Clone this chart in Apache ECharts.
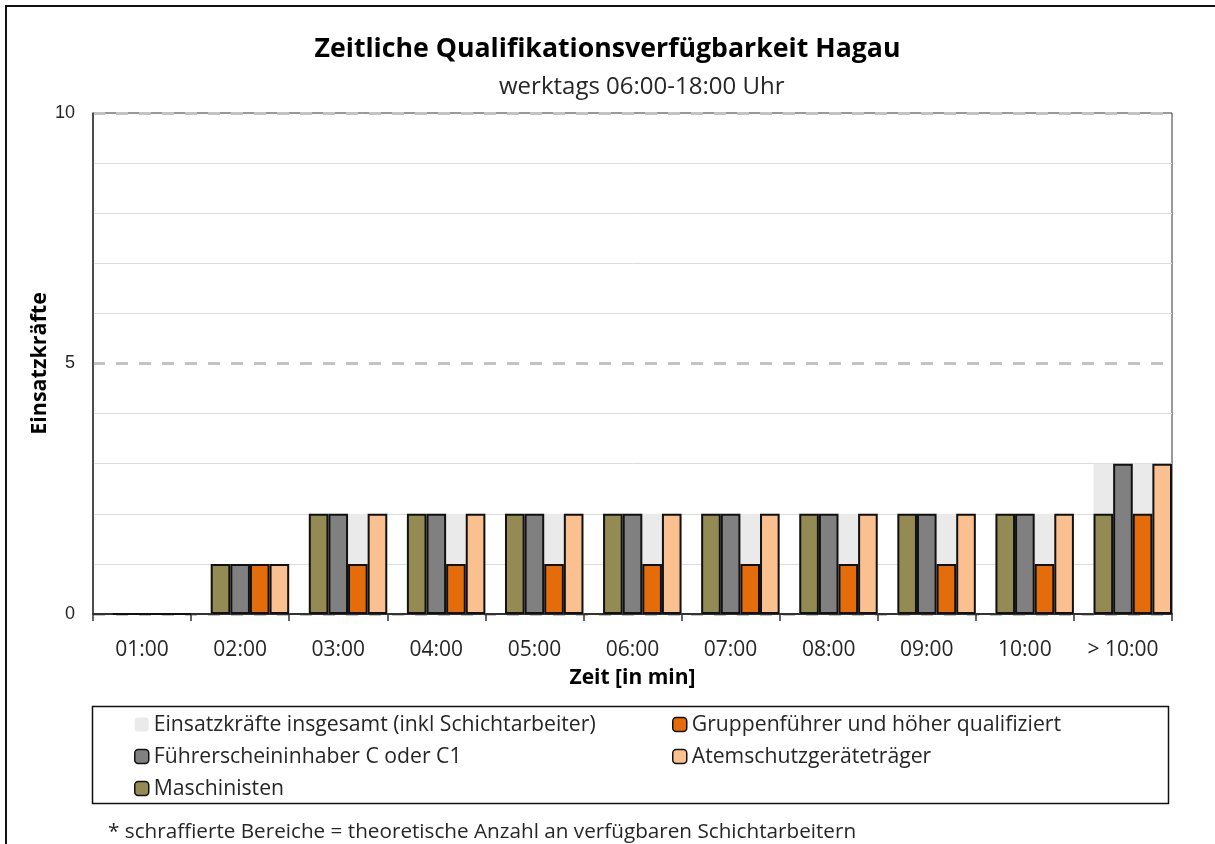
<!DOCTYPE html>
<html>
<head>
<meta charset="utf-8">
<title>Zeitliche Qualifikationsverfügbarkeit Hagau</title>
<script src="https://cdn.jsdelivr.net/npm/echarts@6/dist/echarts.min.js"></script>
<style>
  html, body { margin: 0; padding: 0; background: #fff; }
  #chart { width: 1215px; height: 844px; }
</style>
</head>
<body>
<div id="chart"></div>
<script>
// Zeitkategorien (Ausrückezeit)
const categories = ['01:00', '02:00', '03:00', '04:00', '05:00', '06:00', '07:00', '08:00', '09:00', '10:00', '> 10:00'];

// Verfügbare Einsatzkräfte je Qualifikation
const insgesamt      = [0, 1, 2, 2, 2, 2, 2, 2, 2, 2, 3];
const maschinisten   = [0, 1, 2, 2, 2, 2, 2, 2, 2, 2, 2];
const fuehrerschein  = [0, 1, 2, 2, 2, 2, 2, 2, 2, 2, 3];
const gruppenfuehrer = [0, 1, 1, 1, 1, 1, 1, 1, 1, 1, 2];
const atemschutz     = [0, 1, 2, 2, 2, 2, 2, 2, 2, 2, 3];

const yTicks = [0, 5, 10];

const FONT = '"Open Sans", "Noto Sans", sans-serif';
const TXT = '#262626';
const EDGE = '#111111';

const chart = echarts.init(document.getElementById('chart'), null, { renderer: 'canvas' });

function barSeries(name, data, color) {
  return {
    name: name,
    type: 'bar',
    xAxisIndex: 0,
    data: data,
    z: 3,
    itemStyle: { color: color, borderColor: EDGE, borderWidth: 2 },
    emphasis: { disabled: true }
  };
}

const legendText = { fontFamily: FONT, fontSize: 21.2, color: TXT, lineHeight: 21 };

const option = {
  animation: false,
  textStyle: { fontFamily: FONT },
  title: [
    {
      text: 'Zeitliche Qualifikationsverfügbarkeit Hagau',
      left: 'center', top: 31,
      textStyle: { fontFamily: FONT, fontSize: 26.7, fontWeight: 'bold', color: '#000' }
    },
    {
      text: 'werktags 06:00-18:00 Uhr',
      left: 494, top: 70,
      textStyle: { fontFamily: FONT, fontSize: 24, fontWeight: 'normal', color: TXT }
    },
    {
      text: '* schraffierte Bereiche = theoretische Anzahl an verfügbaren Schichtarbeitern',
      left: 103, top: 817,
      textStyle: { fontFamily: FONT, fontSize: 20.7, fontWeight: 'normal', color: TXT }
    }
  ],
  grid: {
    left: 93, right: 43, top: 113, bottom: 230,
    show: true, borderColor: '#333', borderWidth: 1, backgroundColor: 'transparent'
  },
  legend: [
    {
      orient: 'vertical', left: 134, top: 714, padding: 0,
      itemWidth: 14, itemHeight: 14, itemGap: 11,
      textStyle: legendText,
      data: [
        { name: 'Einsatzkräfte insgesamt (inkl Schichtarbeiter)', itemStyle: { borderWidth: 0 } },
        { name: 'Führerscheininhaber C oder C1', itemStyle: { borderWidth: 1.5 } },
        { name: 'Maschinisten', itemStyle: { borderWidth: 1.5 } }
      ]
    },
    {
      orient: 'vertical', left: 672, top: 714, padding: 0,
      itemWidth: 14, itemHeight: 14, itemGap: 11,
      textStyle: legendText,
      data: [
        { name: 'Gruppenführer und höher qualifiziert', itemStyle: { borderWidth: 1.5 } },
        { name: 'Atemschutzgeräteträger', itemStyle: { borderWidth: 1.5 } }
      ]
    }
  ],
  xAxis: [
    {
      type: 'category',
      data: categories,
      name: 'Zeit [in min]',
      nameLocation: 'middle',
      nameGap: 54,
      nameMoveOverlap: false,
      nameTextStyle: { fontFamily: FONT, fontSize: 21, fontWeight: 'bold', color: '#000' },
      axisLine: { show: true, lineStyle: { color: '#333', width: 2 } },
      axisTick: { show: true, length: 7, lineStyle: { color: '#333', width: 1.5 } },
      axisLabel: { fontFamily: FONT, fontSize: 21, color: TXT, margin: 26 },
      splitLine: { show: false }
    },
    {
      type: 'category',
      data: categories,
      show: false
    }
  ],
  yAxis: {
    type: 'value',
    min: 0, max: 10, interval: 5,
    name: 'Einsatzkräfte',
    nameLocation: 'middle',
    nameGap: 42,
    nameMoveOverlap: false,
    nameTextStyle: { fontFamily: FONT, fontSize: 21.5, fontWeight: 'bold', color: '#000' },
    axisLine: { show: true, lineStyle: { color: '#333', width: 1.5 } },
    axisTick: { show: false },
    axisLabel: {
      fontFamily: '"Liberation Sans", Arial, sans-serif', fontSize: 18, color: TXT, margin: 18,
      formatter: v => (yTicks.indexOf(v) >= 0 ? String(v) : '')
    },
    splitLine: { show: true, lineStyle: { color: '#c3c3c3', width: 3, type: [12, 11] } },
    minorTick: { show: false, splitNumber: 5 },
    minorSplitLine: { show: true, lineStyle: { color: '#dcdcdc', width: 1 } }
  },
  series: [
    // Hintergrund: Gesamtzahl, über die vier Qualifikationsbalken gelegt
    {
      name: '_leer_hinten', type: 'bar', xAxisIndex: 1, data: [],
      barWidth: '20%', barGap: '0%', silent: true, z: 1,
      itemStyle: { color: 'transparent' }
    },
    {
      name: 'Einsatzkräfte insgesamt (inkl Schichtarbeiter)',
      type: 'bar', xAxisIndex: 1, data: insgesamt,
      barWidth: '80%', barGap: '0%', z: 1,
      itemStyle: { color: '#eaeaea', borderWidth: 0 },
      emphasis: { disabled: true }
    },
    // Freier Platz links in jeder Kategorie
    {
      name: '_leer_vorne', type: 'bar', xAxisIndex: 0, data: [],
      silent: true, barGap: '0%', barCategoryGap: '0%',
      itemStyle: { color: 'transparent' }
    },
    barSeries('Maschinisten', maschinisten, '#948a54'),
    barSeries('Führerscheininhaber C oder C1', fuehrerschein, '#808080'),
    barSeries('Gruppenführer und höher qualifiziert', gruppenfuehrer, '#e46c0a'),
    Object.assign(barSeries('Atemschutzgeräteträger', atemschutz, '#fac090'), { barGap: '0%', barCategoryGap: '0%' })
  ],
  graphic: [
    // Rahmen um das gesamte Diagramm
    {
      type: 'rect', silent: true, z: 0,
      shape: { x: 6, y: 6, width: 1230, height: 860 },
      style: { fill: 'none', stroke: '#111', lineWidth: 2 }
    },
    // Rahmen der Legende
    {
      type: 'rect', silent: true, z: 0,
      shape: { x: 92.5, y: 706.5, width: 1076, height: 97 },
      style: { fill: 'none', stroke: '#111', lineWidth: 1.5 }
    }
  ]
};

chart.setOption(option);
</script>
</body>
</html>
